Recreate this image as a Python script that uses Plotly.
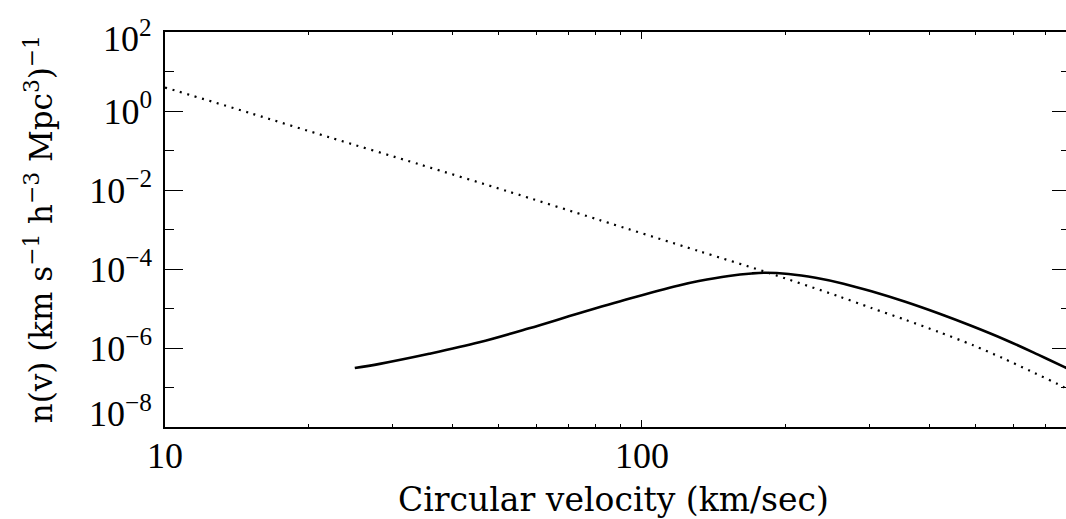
import plotly.graph_objects as go

# Dotted curve
v_dot = [10, 15.1, 22.1, 34.2, 52.2, 81.3, 131.6, 181.7, 258.3, 302.8, 356.6, 418.1,
         495, 571.9, 654.6, 767.4, 790]
n_dot = [3.94, 0.881, 0.216, 0.0444, 9.35e-3, 1.75e-3, 2.84e-4, 8.43e-5, 2.04e-5,
         1.03e-5, 5.18e-6, 2.57e-6, 1.17e-6, 5.47e-7, 2.56e-7, 1.01e-7, 7.9e-8]

# Solid curve
v_sol = [25, 28.2, 35.8, 45.6, 58.0, 73.8, 93.9, 119.5, 131.6, 152.1, 169.9, 181.7,
         203.0, 231.2, 264.6, 302.8, 356.6, 418.1, 490.1, 577.5, 676.9, 767.4, 790]
n_sol = [3.11e-7, 3.97e-7, 7.13e-7, 1.39e-6, 3.15e-6, 7.57e-6, 1.76e-5, 3.83e-5, 4.95e-5,
         6.67e-5, 7.71e-5, 8.04e-5, 7.50e-5, 6.01e-5, 4.26e-5, 2.73e-5, 1.48e-5, 7.57e-6,
         3.65e-6, 1.62e-6, 6.79e-7, 3.33e-7, 2.83e-7]

x_major = [10, 100]
x_major_text = ["10", "100"]
x_minor = [20, 30, 40, 50, 60, 70, 80, 90, 200, 300, 400, 500, 600, 700]
y_major = [1e-8, 1e-6, 1e-4, 1e-2, 1e0, 1e2]
y_major_text = ["10<sup>−8</sup>", "10<sup>−6</sup>", "10<sup>−4</sup>",
                "10<sup>−2</sup>", "10<sup>0</sup>", "10<sup>2</sup>"]
y_minor = [1e-7, 1e-5, 1e-3, 1e-1, 1e1]

x_title = "Circular velocity (km/sec)"
y_title = "n(v) (km s<sup>−1</sup> h<sup>−3</sup> Mpc<sup>3</sup>)<sup>−1</sup>"

W, H = 1072, 519
L, T, B = 165, 32, 92
PW, PH = W - L, H - T - B


def px_x(p):
    return (p - L) / PW


def px_y(p):
    return (H - B - p) / PH


fig = go.Figure()
fig.add_trace(go.Scatter(x=v_dot, y=n_dot, mode="lines",
                         line=dict(color="black", width=2.2, dash="2px,5.7px", shape="spline", smoothing=0.8),
                         showlegend=False, hoverinfo="skip"))
fig.add_trace(go.Scatter(x=v_sol, y=n_sol, mode="lines",
                         line=dict(color="black", width=2.6, shape="spline", smoothing=1.0),
                         showlegend=False, hoverinfo="skip"))

tick_font = dict(family="Liberation Serif", size=36, color="black")
# end labels are drawn as annotations (nudged inward as in the reference)
y_tick_shown = [("" if i in (0, len(y_major) - 1) else t) for i, t in enumerate(y_major_text)]

fig.update_xaxes(type="log", range=[1, 2.8975], showgrid=False, zeroline=False,
                 showline=True, linecolor="black", linewidth=1.5, mirror="ticks",
                 ticks="inside", ticklen=7, tickwidth=1, tickcolor="black",
                 tickmode="array", tickvals=x_major, ticktext=x_major_text,
                 tickfont=tick_font, ticklabelstandoff=-4,
                 minor=dict(tickmode="array", tickvals=x_minor, ticks="inside",
                            ticklen=3.5, tickwidth=1, tickcolor="black", showgrid=False))
fig.update_yaxes(type="log", range=[-8, 2], showgrid=False, zeroline=False,
                 showline=True, linecolor="black", linewidth=1.5, mirror="ticks",
                 ticks="inside", ticklen=18, tickwidth=1, tickcolor="black",
                 tickmode="array", tickvals=y_major, ticktext=y_tick_shown,
                 tickfont=tick_font, ticklabelstandoff=4,
                 minor=dict(tickmode="array", tickvals=y_minor, ticks="inside",
                            ticklen=9, tickwidth=1, tickcolor="black", showgrid=False))

for txt, py in [(y_major_text[0], 411), (y_major_text[-1], 36)]:
    fig.add_annotation(text=txt, xref="paper", yref="paper", x=px_x(154), y=px_y(py),
                       xanchor="right", yanchor="middle", showarrow=False, font=tick_font)

fig.add_annotation(text=x_title, xref="paper", yref="paper", x=px_x(614), y=px_y(499),
                   xanchor="center", yanchor="middle", showarrow=False,
                   font=dict(family="DejaVu Serif", size=33, color="black"))
fig.add_annotation(text=y_title, xref="paper", yref="paper", x=px_x(39), y=px_y(229),
                   xanchor="center", yanchor="middle", textangle=-90, showarrow=False,
                   font=dict(family="DejaVu Serif", size=31, color="black"))

fig.update_layout(width=W, height=H, margin=dict(l=L, r=0, t=T, b=B),
                  paper_bgcolor="white", plot_bgcolor="white")
fig.write_html("out.html", config={"displayModeBar": False},
               post_script="document.body.style.margin='0';document.body.style.overflow='hidden';")
